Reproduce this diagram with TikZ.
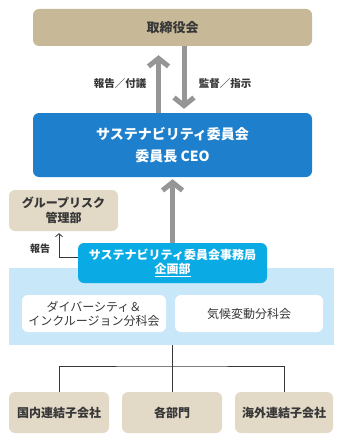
\documentclass[tikz,border=0pt]{standalone}
\usepackage{fontspec}
\setmainfont{Noto Sans CJK JP}
\usetikzlibrary{positioning,arrows.meta}
\definecolor{boardtan}{RGB}{199,185,151}
\definecolor{lighttan}{RGB}{226,217,199}
\definecolor{comblue}{RGB}{30,128,204}
\definecolor{officecyan}{RGB}{10,170,228}
\definecolor{bandblue}{RGB}{200,231,248}
\definecolor{arrowgray}{RGB}{150,150,150}
\definecolor{inkgray}{RGB}{55,55,55}

\begin{document}
\begin{tikzpicture}[x=1pt,y=-1pt,
	box/.style={rounded corners=6pt, inner sep=0pt, align=center},
	tanbox/.style={box, fill=lighttan, text=inkgray, font=\bfseries\fontsize{12}{15}\selectfont},
	whitebox/.style={box, fill=white, text=inkgray, minimum height=37pt, font=\fontsize{12}{14}\selectfont},
	bigarrow/.style={draw=arrowgray, line width=5pt, -{Straight Barb[length=8pt,width=20pt,line cap=butt]}},
	smallarrow/.style={draw=inkgray, line width=0.8pt, -{Straight Barb[length=3pt,width=7pt]}},
	lbl/.style={text=inkgray, font=\bfseries\fontsize{10.5}{12}\selectfont}]
	\useasboundingbox (0,0) rectangle (342,441);

	% band behind the secretariat
	\node[fill=bandblue, minimum width=325pt, minimum height=77pt, inner sep=0pt] (band) at (171.5,306.5) {};

	\node[box, fill=boardtan, text=inkgray, minimum width=279pt, minimum height=37pt,
		font=\bfseries\fontsize{13}{15}\selectfont] (board) at (172.5,27.5) {取締役会};
	\node[box, fill=comblue, text=white, minimum width=279pt, minimum height=64pt,
		font=\bfseries\fontsize{14}{22}\selectfont] (committee) at (172.5,145) {サステナビリティ委員会\\委員長 CEO};
	\node[tanbox, minimum width=109pt, minimum height=41pt] (grouprisk) at (63.5,210.5) {グループリスク\\管理部};
	\node[box, fill=officecyan, text=white, minimum width=189pt, minimum height=40pt,
		font=\bfseries\fontsize{12}{14}\selectfont] (office) at (172.5,263) {サステナビリティ委員会事務局\\\underline{企画部}};

	\node[whitebox, minimum width=144pt] (diversity) at (94,313.5) {ダイバーシティ＆\\インクルージョン分科会};
	\node[whitebox, minimum width=148pt] (climate) at (249,313.5) {気候変動分科会};

	\node[tanbox, minimum width=100pt, minimum height=41pt] (domestic) at (59,412.5) {国内連結子会社};
	\node[tanbox, minimum width=100pt, minimum height=41pt] (depts) at (172,412.5) {各部門};
	\node[tanbox, minimum width=98pt, minimum height=41pt] (overseas) at (284,412.5) {海外連結子会社};

	\node[lbl] (report) at (120,84) {報告／付議};
	\node[lbl] (oversight) at (225,84) {監督／指示};
	\node[lbl, font=\bfseries\fontsize{10}{12}\selectfont] (smallreport) at (40,249) {報告};

	\begin{scope}
	\draw[bigarrow, shorten >=9pt] ([xshift=-14pt]committee.north) -- ([xshift=-14pt]board.south);
	\draw[bigarrow, shorten >=4pt] ([xshift=11.5pt]board.south) -- ([xshift=11.5pt]committee.north);
	\draw[bigarrow, shorten >=2pt] (office.north) -- (committee.south);
	\end{scope}

	\draw[smallarrow, shorten >=2pt] ([yshift=6pt]office.west) -| ([xshift=-4.5pt]grouprisk.south);

	\coordinate (fork) at (172,366);
	\begin{scope}[draw=inkgray, line width=0.8pt]
	\draw (band.south -| depts.north) -- (depts.north);
	\draw (domestic.north) |- (fork) -| (overseas.north);
	\end{scope}
\end{tikzpicture}
\end{document}
